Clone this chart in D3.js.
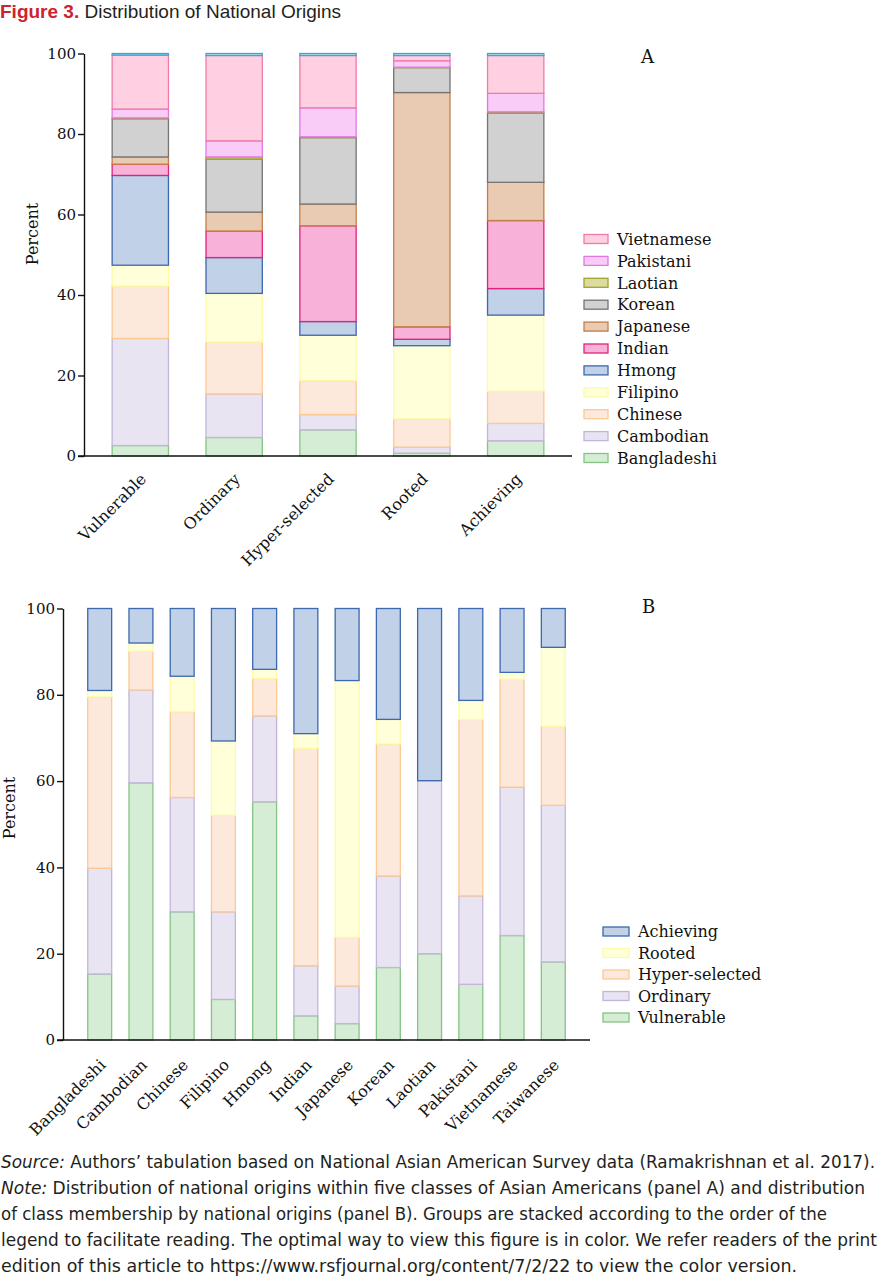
<!DOCTYPE html>
<html>
<head>
<meta charset="utf-8">
<script src="https://cdn.jsdelivr.net/npm/d3@7"></script>
<style>
  body { margin: 0; background: #fff; }
  svg { display: block; }
</style>
</head>
<body>
<svg id="chart" width="882" height="1280"></svg>
<script>
// Panel A: national origins within each class (bottom -> top stack order)
const classes = ['Vulnerable', 'Ordinary', 'Hyper-selected', 'Rooted', 'Achieving'];
const origins = ['Bangladeshi', 'Cambodian', 'Chinese', 'Filipino', 'Hmong', 'Indian',
  'Japanese', 'Korean', 'Laotian', 'Pakistani', 'Vietnamese', 'Taiwanese'];

const bangladeshi = [2.6, 4.6, 6.5, 0.7, 3.8];
const cambodian = [26.6, 10.8, 3.8, 1.5, 4.3];
const chinese = [13.0, 12.9, 8.4, 7.0, 8.0];
const filipino = [5.2, 12.1, 11.3, 18.2, 18.9];
const hmong = [22.3, 8.9, 3.4, 1.6, 6.6];
const indian = [2.8, 6.6, 23.8, 3.1, 16.9];
const japanese = [1.8, 4.7, 5.4, 58.2, 9.5];
const korean = [9.5, 13.2, 16.5, 6.2, 17.2];
const laotian = [0.2, 0.5, 0.2, 0.1, 0.3];
const pakistani = [2.2, 4.0, 7.2, 1.6, 4.6];
const vietnamese = [13.4, 21.2, 13.0, 1.3, 9.4];
const taiwanese = [0.4, 0.5, 0.5, 0.5, 0.5];

// Panel B: class membership within each national origin
const nations = ['Bangladeshi', 'Cambodian', 'Chinese', 'Filipino', 'Hmong', 'Indian',
  'Japanese', 'Korean', 'Laotian', 'Pakistani', 'Vietnamese', 'Taiwanese'];
const vulnerable = [15.3, 59.6, 29.7, 9.4, 55.2, 5.6, 3.8, 16.8, 20.0, 12.9, 24.2, 18.1];
const ordinary = [24.5, 21.5, 26.5, 20.3, 19.9, 11.6, 8.7, 21.2, 40.1, 20.5, 34.4, 36.3];
const hyperSelected = [39.7, 9.0, 19.9, 22.4, 8.7, 50.4, 11.3, 30.6, 0, 40.9, 25.0, 18.3];
const rooted = [1.5, 1.9, 8.2, 17.2, 2.1, 3.4, 59.5, 5.7, 0, 4.4, 1.6, 18.3];
const achieving = [19.0, 8.0, 15.7, 30.7, 14.1, 29.0, 16.7, 25.7, 39.9, 21.3, 14.8, 9.0];

const yTicks = [0, 20, 40, 60, 80, 100];
const legendA = ['Vietnamese', 'Pakistani', 'Laotian', 'Korean', 'Japanese', 'Indian',
  'Hmong', 'Filipino', 'Chinese', 'Cambodian', 'Bangladeshi'];
const legendB = ['Achieving', 'Rooted', 'Hyper-selected', 'Ordinary', 'Vulnerable'];

const fills = {
  Bangladeshi: '#d5ecd5', Cambodian: '#e8e4f1', Chinese: '#fde8dc', Filipino: '#ffffd9',
  Hmong: '#c1d1e8', Indian: '#f8b1d9', Japanese: '#e9cbb3', Korean: '#d1d1d1',
  Laotian: '#dcdca2', Pakistani: '#f8ccf7', Vietnamese: '#ffd0e1', Taiwanese: '#bfe3f3'
};
const strokes = {
  Bangladeshi: '#86c486', Cambodian: '#c3b5d9', Chinese: '#fbc994', Filipino: '#fdfaa8',
  Hmong: '#3c68ad', Indian: '#e0237a', Japanese: '#c47d46', Korean: '#747474',
  Laotian: '#a2a22a', Pakistani: '#e277e4', Vietnamese: '#f07aa8', Taiwanese: '#3aa8d6'
};
const classFills = { Vulnerable: fills.Bangladeshi, Ordinary: fills.Cambodian,
  'Hyper-selected': fills.Chinese, Rooted: fills.Filipino, Achieving: fills.Hmong };
const classStrokes = { Vulnerable: strokes.Bangladeshi, Ordinary: strokes.Cambodian,
  'Hyper-selected': strokes.Chinese, Rooted: strokes.Filipino, Achieving: strokes.Hmong };

const serif = '"DejaVu Serif", serif';
const svg = d3.select('#chart');

// title
const title = svg.append('text')
  .attr('x', 0).attr('y', 18)
  .style('font-family', '"Liberation Sans", Arial, sans-serif')
  .style('font-size', '19px');
title.append('tspan').attr('fill', '#cf2230').attr('font-weight', 'bold').text('Figure 3.');
title.append('tspan').attr('fill', '#231f20').text(' Distribution of National Origins');

function drawPanel(opt) {
  const g = svg.append('g');
  const x = d3.scaleBand().domain(opt.cats).range([opt.x0, opt.x1])
    .paddingInner(opt.padIn).paddingOuter(opt.padOut);
  const y = d3.scaleLinear().domain([0, 100]).range([opt.y0, opt.y1]);

  const stack = d3.stack().keys(opt.keys);
  const series = stack(opt.rows);

  g.selectAll('g.layer')
    .data(series)
    .join('g')
    .attr('class', 'layer')
    .attr('fill', (d) => opt.fill[d.key])
    .attr('stroke', (d) => opt.stroke[d.key])
    .attr('stroke-width', 1.3)
    .selectAll('rect')
    .data((d) => d.filter((s) => s[1] - s[0] > 0))
    .join('rect')
    .attr('x', (d) => x(d.data.cat))
    .attr('width', x.bandwidth())
    .attr('y', (d) => y(d[1]))
    .attr('height', (d) => y(d[0]) - y(d[1]));

  // y axis
  const yAxis = g.append('g')
    .attr('transform', `translate(${opt.x0},0)`)
    .call(d3.axisLeft(y).tickValues(yTicks).tickSize(6).tickSizeOuter(0).tickPadding(2));
  yAxis.attr('font-family', null);
  yAxis.select('.domain').attr('stroke', '#111').attr('stroke-width', 1.4);
  yAxis.selectAll('.tick line').attr('stroke', '#111').attr('stroke-width', 1.4);
  yAxis.selectAll('.tick text')
    .style('font-family', serif).style('font-size', '15px').attr('fill', '#111');

  // x axis baseline
  g.append('line')
    .attr('x1', opt.x0 - 6).attr('x2', opt.x1)
    .attr('y1', y(0)).attr('y2', y(0))
    .attr('stroke', '#111').attr('stroke-width', 1.4);

  g.selectAll('text.xlab')
    .data(opt.cats)
    .join('text')
    .attr('class', 'xlab')
    .attr('text-anchor', 'end')
    .attr('transform', (d) => `translate(${x(d) + x.bandwidth() / 2 + 7},${y(0) + opt.labDy}) rotate(-45)`)
    .style('font-family', serif).style('font-size', '16px').attr('fill', '#111')
    .text((d) => d);

  g.append('text')
    .attr('text-anchor', 'middle')
    .attr('transform', `translate(${opt.labelX},${opt.labelY}) rotate(-90)`)
    .style('font-family', serif).style('font-size', '16px').attr('fill', '#111')
    .text('Percent');

  g.append('text')
    .attr('x', opt.tagX).attr('y', opt.tagY)
    .style('font-family', serif).style('font-size', '18px').attr('fill', '#111')
    .text(opt.tag);

  // legend
  const leg = g.selectAll('g.leg')
    .data(opt.legend)
    .join('g')
    .attr('class', 'leg')
    .attr('transform', (d, i) => `translate(${opt.legX},${opt.legY + i * opt.legStep})`);
  leg.append('rect')
    .attr('x', 0).attr('y', -4.5).attr('width', opt.swW).attr('height', 9)
    .attr('fill', (d) => opt.fill[d]).attr('stroke', (d) => opt.stroke[d]).attr('stroke-width', 1.3);
  leg.append('text')
    .attr('x', opt.swW + 9).attr('dy', '0.36em')
    .style('font-family', serif).style('font-size', '16px').attr('fill', '#111')
    .text((d) => d);
}

// panel A rows
const seriesA = { Bangladeshi: bangladeshi, Cambodian: cambodian, Chinese: chinese,
  Filipino: filipino, Hmong: hmong, Indian: indian, Japanese: japanese, Korean: korean,
  Laotian: laotian, Pakistani: pakistani, Vietnamese: vietnamese, Taiwanese: taiwanese };
const rowsA = classes.map((c, i) => {
  const row = { cat: c };
  origins.forEach((o) => { row[o] = seriesA[o][i]; });
  return row;
});

drawPanel({
  cats: classes, keys: origins, rows: rowsA, fill: fills, stroke: strokes,
  x0: 84, x1: 572, padIn: 0.4, padOut: 0.3, y0: 456, y1: 53.5, labDy: 24,
  labelX: 38, labelY: 234, tag: 'A', tagX: 641, tagY: 63,
  legend: legendA, legX: 584, legY: 239, legStep: 21.9, swW: 24
});

// panel B rows
const classSeries = { Vulnerable: vulnerable, Ordinary: ordinary,
  'Hyper-selected': hyperSelected, Rooted: rooted, Achieving: achieving };
const rowsB = nations.map((n, i) => {
  const row = { cat: n };
  classes.forEach((c) => { row[c] = classSeries[c][i]; });
  return row;
});

drawPanel({
  cats: nations, keys: classes, rows: rowsB, fill: classFills, stroke: classStrokes,
  x0: 63, x1: 590, padIn: 0.42, padOut: 0.6, y0: 1040, y1: 608.5, labDy: 26,
  labelX: 15, labelY: 808, tag: 'B', tagX: 642, tagY: 613,
  legend: legendB, legX: 603, legY: 931.5, legStep: 21.5, swW: 26
});

// caption
const capFont = '"DejaVu Sans Condensed", "Liberation Sans Narrow", sans-serif';
const captionLines = [
  [['Source:', true], [' Authors\u2019 tabulation based on National Asian American Survey data (Ramakrishnan et al. 2017).', false]],
  [['Note:', true], [' Distribution of national origins within five classes of Asian Americans (panel A) and distribution', false]],
  [['of class membership by national origins (panel B). Groups are stacked according to the order of the', false]],
  [['legend to facilitate reading. The optimal way to view this figure is in color. We refer readers of the print', false]],
  [['edition of this article to https://www.rsfjournal.org/content/7/2/22 to view the color version.', false]]
];
const captionWidths = [874, 864, 826, 876, 796];

captionLines.forEach((parts, i) => {
  const t = svg.append('text')
    .attr('x', 1).attr('y', 1168 + i * 26)
    .attr('textLength', captionWidths[i]).attr('lengthAdjust', 'spacingAndGlyphs')
    .style('font-family', capFont).style('font-size', '18.5px').attr('fill', '#231f20');
  parts.forEach(([s, it]) => {
    t.append('tspan').style('font-style', it ? 'italic' : 'normal').text(s);
  });
});
</script>
</body>
</html>
